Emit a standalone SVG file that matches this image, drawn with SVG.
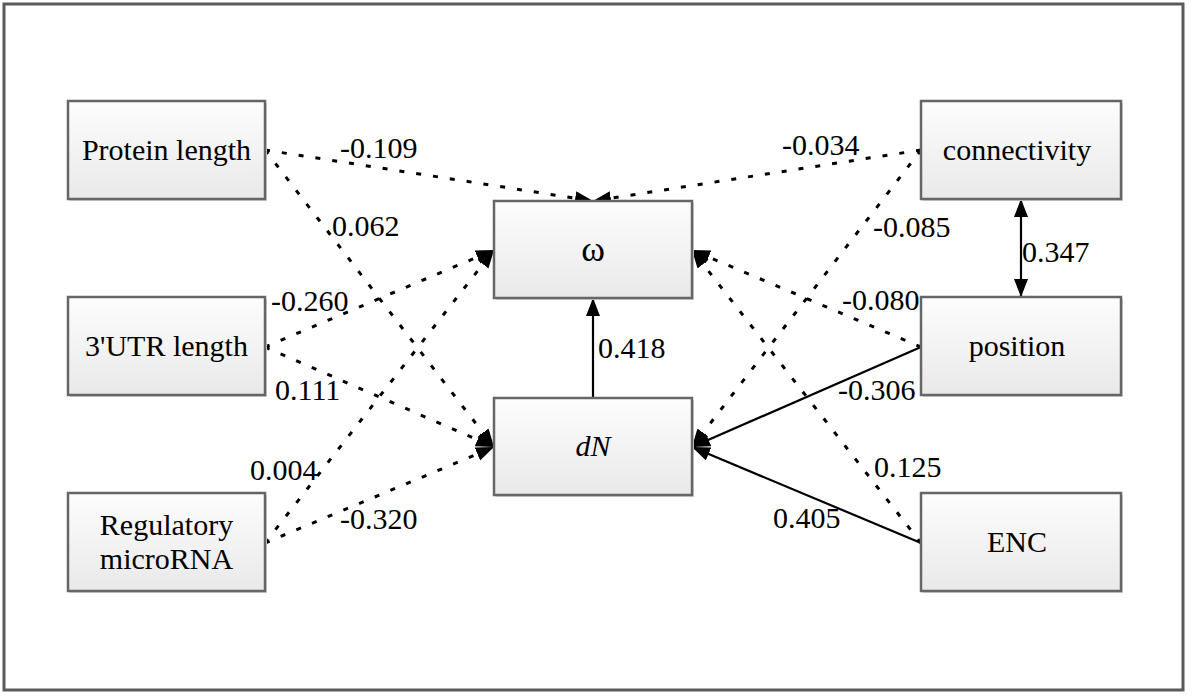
<svg xmlns="http://www.w3.org/2000/svg" width="1200" height="697" viewBox="0 0 1200 697">
<defs>
<linearGradient id="boxfill" x1="0" y1="0" x2="0" y2="1">
<stop offset="0" stop-color="#fdfdfd"/>
<stop offset="1" stop-color="#e9e9e9"/>
</linearGradient>
<marker id="arr" markerUnits="userSpaceOnUse" markerWidth="20" markerHeight="16" refX="18" refY="7" orient="auto-start-reverse">
<path d="M0,0 L18,7 L0,14 z" fill="#000"/>
</marker>
</defs>
<style>
.frame{fill:#fff;stroke:#5a5a5a;stroke-width:3}
.shadow{fill:#d4d4d4}
.box{fill:url(#boxfill);stroke:#666;stroke-width:2.5}
.lbl{font-family:"Liberation Serif","Times New Roman",serif;font-size:30px;fill:#000}
.omega{font-family:"Liberation Serif","Times New Roman",serif;font-size:36px;fill:#000}
.num{font-family:"Liberation Serif","Times New Roman",serif;font-size:30px;fill:#000}
.dot{fill:none;stroke:#000;stroke-width:3;stroke-dasharray:5 12}
.sol{fill:none;stroke:#000;stroke-width:2.2}
</style>
<rect x="0" y="0" width="1200" height="697" fill="#fff"/>
<rect class="frame" x="4" y="4" width="1179" height="686"/>

<g id="connectors">
<line class="dot" x1="265" y1="150" x2="593" y2="201" marker-end="url(#arr)"/>
<line class="dot" x1="265" y1="150" x2="494" y2="447" marker-end="url(#arr)"/>
<line class="dot" x1="265" y1="347" x2="494" y2="250" marker-end="url(#arr)"/>
<line class="dot" x1="265" y1="347" x2="494" y2="447" marker-end="url(#arr)"/>
<line class="dot" x1="265" y1="543" x2="494" y2="250" marker-end="url(#arr)"/>
<line class="dot" x1="265" y1="543" x2="494" y2="447" marker-end="url(#arr)"/>
<line class="dot" x1="921" y1="150" x2="593" y2="201" marker-end="url(#arr)"/>
<line class="dot" x1="921" y1="150" x2="692" y2="447" marker-end="url(#arr)"/>
<line class="dot" x1="921" y1="347" x2="692" y2="250" marker-end="url(#arr)"/>
<line class="dot" x1="921" y1="543" x2="692" y2="250" marker-end="url(#arr)"/>
<line class="sol" x1="921" y1="347" x2="692" y2="447" marker-end="url(#arr)"/>
<line class="sol" x1="921" y1="543" x2="692" y2="447" marker-end="url(#arr)"/>
<line class="sol" x1="593" y1="398" x2="593" y2="298" marker-end="url(#arr)"/>
<line class="sol" x1="1021" y1="199" x2="1021" y2="297" marker-start="url(#arr)" marker-end="url(#arr)"/>
<text class="num" x="340" y="158">-0.109</text>
<text class="num" x="332" y="236">0.062</text>
<text class="num" x="271" y="311">-0.260</text>
<text class="num" x="275" y="400">0.111</text>
<text class="num" x="250" y="480">0.004</text>
<text class="num" x="340" y="529">-0.320</text>
<text class="num" x="782" y="155">-0.034</text>
<text class="num" x="873" y="237">-0.085</text>
<text class="num" x="1022" y="262">0.347</text>
<text class="num" x="842" y="310">-0.080</text>
<text class="num" x="598" y="358">0.418</text>
<text class="num" x="838" y="400">-0.306</text>
<text class="num" x="874" y="477">0.125</text>
<text class="num" x="773" y="528">0.405</text>
</g>

<g id="node-protein-length">
<rect class="shadow" x="70" y="103" width="197" height="98"/>
<rect class="box" x="68" y="101" width="197" height="98"/>
<text class="lbl" x="166.5" y="160" text-anchor="middle">Protein length</text>
</g>
<g id="node-utr-length">
<rect class="shadow" x="70" y="299" width="197" height="98"/>
<rect class="box" x="68" y="297" width="197" height="98"/>
<text class="lbl" x="166.5" y="356" text-anchor="middle">3'UTR length</text>
</g>
<g id="node-regulatory-microrna">
<rect class="shadow" x="70" y="495" width="197" height="98"/>
<rect class="box" x="68" y="493" width="197" height="98"/>
<text class="lbl" x="166.5" y="535" text-anchor="middle">Regulatory</text>
<text class="lbl" x="166.5" y="569" text-anchor="middle">microRNA</text>
</g>
<g id="node-omega">
<rect class="shadow" x="496" y="203" width="198" height="97"/>
<rect class="box" x="494" y="201" width="198" height="97"/>
<text class="omega" x="593" y="261" text-anchor="middle">ω</text>
</g>
<g id="node-dn">
<rect class="shadow" x="496" y="400" width="198" height="97"/>
<rect class="box" x="494" y="398" width="198" height="97"/>
<text class="lbl" x="593" y="456" text-anchor="middle" font-style="italic">dN</text>
</g>
<g id="node-connectivity">
<rect class="shadow" x="923" y="103" width="200" height="98"/>
<rect class="box" x="921" y="101" width="200" height="98"/>
<text class="lbl" x="1017" y="160" text-anchor="middle">connectivity</text>
</g>
<g id="node-position">
<rect class="shadow" x="923" y="299" width="200" height="98"/>
<rect class="box" x="921" y="297" width="200" height="98"/>
<text class="lbl" x="1017" y="356" text-anchor="middle">position</text>
</g>
<g id="node-enc">
<rect class="shadow" x="923" y="495" width="200" height="98"/>
<rect class="box" x="921" y="493" width="200" height="98"/>
<text class="lbl" x="1017" y="552" text-anchor="middle">ENC</text>
</g>
</svg>
